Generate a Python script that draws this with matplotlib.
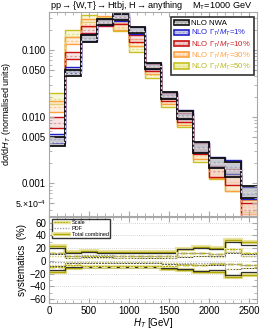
import numpy as np
import matplotlib
matplotlib.use("Agg")
import matplotlib.pyplot as plt
from matplotlib.patches import Rectangle
from matplotlib.lines import Line2D
from matplotlib.ticker import FixedLocator, MultipleLocator, LogLocator, NullFormatter

# ---- data ----
edges = np.arange(0, 2601, 200)

nwa  = [0.00414, 0.045, 0.146, 0.26, 0.308, 0.196, 0.0574, 0.0207, 0.01035, 0.00342, 0.0020, 0.00157, 0.00073]
w1   = [0.0046, 0.049, 0.151, 0.26, 0.303, 0.193, 0.0570, 0.0210, 0.0106, 0.0035, 0.00206, 0.00174, 0.000695]
w10  = [0.0080, 0.081, 0.200, 0.255, 0.273, 0.146, 0.0536, 0.0196, 0.0095, 0.0033, 0.0015, 0.00123, 0.00039]
w30  = [0.0139, 0.136, 0.250, 0.28, 0.222, 0.127, 0.0483, 0.0177, 0.0087, 0.00278, 0.00146, 0.00103, 0.000435]
w50  = [0.0183, 0.176, 0.292, 0.27, 0.214, 0.102, 0.0428, 0.0160, 0.0081, 0.00255, 0.00139, 0.00103, 0.00047]

# systematics in %, NWA and 50% width
nwa_tot_up = [20, 13, 14, 13, 13, 13, 13, 13, 18, 20, 19, 30, 25]
nwa_tot_dn = [-14, -9, -9, -9, -9, -9, -9, -11, -12, -16, -15, -22, -18]
w50_tot_up = [23, 14, 16, 14, 14, 14, 14, 14, 19, 21, 20, 33, 29]
w50_tot_dn = [-17, -11, -10, -10, -10, -10, -10, -12, -14, -18, -17, -25, -22]
nwa_scale_up = [10, 5, 6, 6, 5, 5, 5, 5, 6, 8, 8, 12, 10]
nwa_scale_dn = [-8, -4, -4, -4, -4, -4, -4, -5, -5, -6, -6, -13, -11]
w50_scale_up = [12, 8, 8, 8, 8, 8, 8, 8, 13, 12, 10, 18, 13]
w50_scale_dn = [-10, -7, -8, -8, -8, -8, -8, -8, -6, -6, -5, -5, -6]
nwa_pdf_up = [13, 8, 9, 9, 8, 8, 8, 8, 12, 12, 10, 14, 8]
nwa_pdf_dn = [-1, -1, -1, -2, -2, -2, -2, -3, -3, -4, -3, -5, -6]
w50_pdf_up = [7, 4, 4, 4, 4, 4, 4, 4, 8, 8, 6, 14, 8]
w50_pdf_dn = [-6, -2, -2, -2, -2, -2, -2, -4, -5, -6, -4, -12, -11]

series = [
    # values, up, dn, edge, fill, dash, label, text colour
    (w50, w50_tot_up, w50_tot_dn, '#c8c020', '#f0f0b0', '#e0e090', r'NLO $\Gamma_T/M_T$=50%', '#b8b820'),
    (w30, w50_tot_up, w50_tot_dn, '#ffa040', '#ffe0c0', '#ffc890', r'NLO $\Gamma_T/M_T$=30%', '#ffa040'),
    (w10, w50_tot_up, w50_tot_dn, '#c81010', '#f0c8c8', '#e0a0a0', r'NLO $\Gamma_T/M_T$=10%', '#c82020'),
    (w1,  nwa_tot_up, nwa_tot_dn, '#2020c8', '#c8c8e8', '#a0a0d8', r'NLO $\Gamma_T/M_T$=1%',  '#2020d0'),
    (nwa, nwa_tot_up, nwa_tot_dn, '#101010', '#b0b0b0', '#d8d8d8', 'NLO NWA', '#000000'),
]

plt.rcParams['font.family'] = ['Liberation Sans', 'DejaVu Sans']
plt.rcParams['mathtext.fontset'] = 'custom'
plt.rcParams['mathtext.rm'] = 'Liberation Sans'
plt.rcParams['mathtext.it'] = 'Liberation Sans:italic'

fig = plt.figure(figsize=(2.7, 3.31), dpi=100)
ax = fig.add_axes([0.1815, 0.347, 0.7705, 0.6167])
bx = fig.add_axes([0.1815, 0.0846, 0.7705, 0.2584], sharex=ax)

frame = '#a8a8a8'
for a in (ax, bx):
    for s in a.spines.values():
        s.set_color(frame)
        s.set_linewidth(0.8)
    a.tick_params(which='both', direction='in', top=True, right=True, color=frame,
                  labelsize=7, pad=2)
    a.tick_params(which='major', length=3.5)
    a.tick_params(which='minor', length=2)

# ---- top panel ----
handles = []
for vals, up, dn, ec, fc, dc, lab, tc in series:
    v = np.array(vals)
    hi = v * (1 + np.array(up) / 100.0)
    lo = v * (1 + np.array(dn) / 100.0)
    lw = 1.3 if ec == '#101010' else 1.0
    ax.stairs(hi, edges, baseline=lo, fill=True, color=fc, alpha=0.5, lw=0)
    ax.stairs(hi, edges, baseline=None, color=ec, lw=lw)
    ax.stairs(lo, edges, baseline=None, color=ec, lw=lw)
    ax.stairs(v, edges, baseline=None, color=dc, lw=0.9, ls=(0, (2, 1.5)))
    h = (Rectangle((0, 0), 1, 1, facecolor=fc, edgecolor=ec, lw=1.2),
         Line2D([], [], color=dc, lw=0.8, ls=(0, (2, 1.5))))
    handles.append((h, lab, tc))

ax.set_yscale('log')
ax.set_xlim(0, 2600)
ax.set_ylim(3.19e-4, 0.372)
ax.yaxis.set_major_locator(FixedLocator([5e-4, 0.001, 0.005, 0.01, 0.05, 0.1]))
ax.set_yticklabels(['5.\u00d710$^{-4}$', '0.001', '0.005', '0.010', '0.050', '0.100'])
ax.get_yticklabels()[0].set_fontsize(6.3)
ax.yaxis.set_minor_locator(LogLocator(base=10, subs=np.arange(2, 10)))
ax.yaxis.set_minor_formatter(NullFormatter())
ax.xaxis.set_major_locator(MultipleLocator(500))
ax.xaxis.set_minor_locator(MultipleLocator(100))
ax.tick_params(labelbottom=False)
ax.set_ylabel(r'd$\sigma$/d$H_T$ (normalised units)', fontsize=6.5)
ax.yaxis.set_label_coords(-0.172, 0.5)

hs = [h for h, _, _ in handles[::-1]]
ls = [l for _, l, _ in handles[::-1]]
leg = ax.legend(hs, ls, loc='upper right', bbox_to_anchor=(0.985, 0.975), fontsize=5.6,
                frameon=True, fancybox=False, handlelength=1.9, handleheight=0.7,
                handletextpad=0.35, borderpad=0.35, labelspacing=0.12, borderaxespad=0)
leg.get_frame().set_edgecolor('black')
leg.get_frame().set_linewidth(1.2)
for t, (_, _, tc) in zip(leg.get_texts(), handles[::-1]):
    t.set_color(tc)

fig.text(0.185, 0.982, r'pp$\rightarrow${W,T}$\rightarrow$Htbj, H$\rightarrow$anything',
         fontsize=6.6, ha='left', va='center')
fig.text(0.935, 0.982, r'M$_\mathrm{T}$=1000 GeV', fontsize=6.6, ha='right', va='center')

# ---- bottom panel ----
yel = '#b0a800'
yel_l = '#e8e4a0'
for arr in (w50_tot_up, w50_tot_dn):
    bx.stairs(arr, edges, baseline=None, color=yel_l, lw=3)
    bx.stairs(arr, edges, baseline=None, color=yel, lw=1.0)
for arr in (nwa_tot_up, nwa_tot_dn):
    bx.stairs(arr, edges, baseline=None, color='#303030', lw=0.9)
for arr in (w50_scale_up, w50_scale_dn):
    bx.stairs(arr, edges, baseline=None, color=yel_l, lw=2.2, ls=(0, (2, 1)))
    bx.stairs(arr, edges, baseline=None, color=yel, lw=0.7, ls=(0, (2, 1)))
for arr in (nwa_scale_up, nwa_scale_dn):
    bx.stairs(arr, edges, baseline=None, color='#404040', lw=0.7, ls=(0, (2, 1)))
for arr in (nwa_pdf_up, nwa_pdf_dn):
    bx.stairs(arr, edges, baseline=None, color='#a0a0a0', lw=1.0, ls=(0, (1, 1)))
for arr in (w50_pdf_up, w50_pdf_dn):
    bx.stairs(arr, edges, baseline=None, color='#d0cc70', lw=1.0, ls=(0, (1, 1)))

bx.set_ylim(-66, 68)
bx.yaxis.set_major_locator(FixedLocator([-60, -40, -20, 0, 20, 40, 60]))
bx.set_yticklabels(['\u221260', '\u221240', '\u221220', '0', '20', '40', '60'])
bx.yaxis.set_minor_locator(MultipleLocator(10))
bx.grid(axis='y', which='major', color='#c8c8c8', ls=(0, (1, 1.5)), lw=0.6)
bx.set_axisbelow(True)
bx.set_ylabel('systematics  (%)', fontsize=7, labelpad=2)
bx.set_xlabel(r'$H_T$ [GeV]', fontsize=7)
bx.xaxis.set_label_coords(0.5, -0.15)

lh = [(Line2D([], [], color=yel_l, lw=2.5), Line2D([], [], color=yel, lw=0.7, ls=(0, (2, 1)))),
      Line2D([], [], color='#a0a0a0', lw=1.0, ls=(0, (1, 1))),
      (Line2D([], [], color=yel_l, lw=3), Line2D([], [], color=yel, lw=1.0))]
leg2 = bx.legend(lh, ['Scale', 'PDF', 'Total combined'], loc='upper left',
                 bbox_to_anchor=(0.015, 0.985), fontsize=4, frameon=True, fancybox=False,
                 handlelength=2.8, handletextpad=0.4, borderpad=0.3, labelspacing=0.1,
                 borderaxespad=0)
leg2.get_frame().set_edgecolor('black')
leg2.get_frame().set_linewidth(1.0)

fig.savefig('out.png', dpi=100)
